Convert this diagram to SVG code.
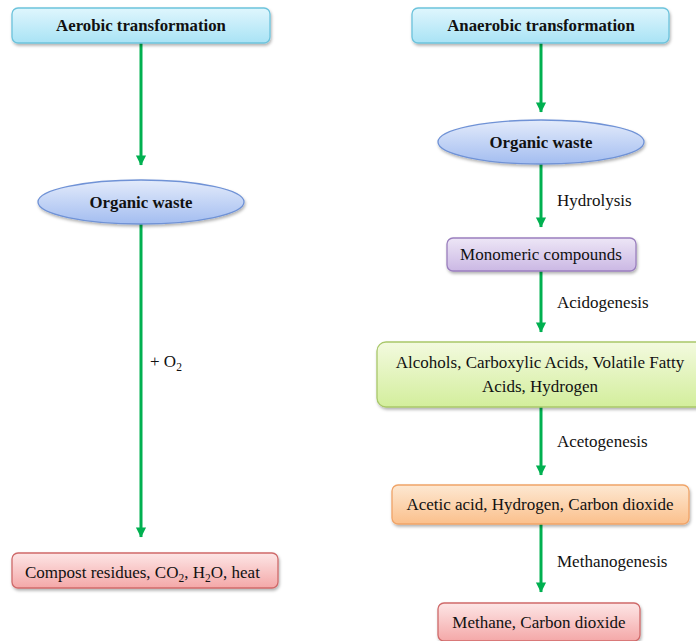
<svg xmlns="http://www.w3.org/2000/svg" width="696" height="641" viewBox="0 0 696 641">
<defs>
<linearGradient id="gCyan" x1="0" y1="0" x2="0" y2="1"><stop offset="0" stop-color="#dff6fd"/><stop offset="1" stop-color="#a9e3f5"/></linearGradient>
<linearGradient id="gBlue" x1="0" y1="0" x2="0" y2="1"><stop offset="0" stop-color="#e3ebfb"/><stop offset="1" stop-color="#a3bdf0"/></linearGradient>
<linearGradient id="gPurple" x1="0" y1="0" x2="0" y2="1"><stop offset="0" stop-color="#ede6f6"/><stop offset="1" stop-color="#cbb8e4"/></linearGradient>
<linearGradient id="gGreen" x1="0" y1="0" x2="0" y2="1"><stop offset="0" stop-color="#f3fadf"/><stop offset="1" stop-color="#d3ee9c"/></linearGradient>
<linearGradient id="gOrange" x1="0" y1="0" x2="0" y2="1"><stop offset="0" stop-color="#fde8d2"/><stop offset="1" stop-color="#fbc08c"/></linearGradient>
<linearGradient id="gRed" x1="0" y1="0" x2="0" y2="1"><stop offset="0" stop-color="#fde6e6"/><stop offset="1" stop-color="#f4a8a8"/></linearGradient>
<filter id="sh" x="-10%" y="-20%" width="120%" height="150%"><feDropShadow dx="1" dy="2" stdDeviation="1.5" flood-color="#000" flood-opacity="0.3"/></filter>
<marker id="ah" markerWidth="4" markerHeight="4" refX="3.2" refY="2" orient="auto" markerUnits="strokeWidth"><path d="M0,0.3 L3.4,2 L0,3.7 Z" fill="#00b050"/></marker>
<style>
.t{font-family:"Liberation Serif","Times New Roman",serif;font-size:17px;fill:#111;}
.b{font-weight:bold;font-size:16.8px;}
.c{stroke:#00b050;stroke-width:3;fill:none;marker-end:url(#ah);}
.n{filter:url(#sh);stroke-width:1.3;}
.sub{font-size:11.5px;}
</style>
</defs>
<g id="connectors">
<line class="c" x1="141" y1="43" x2="141" y2="165"/>
<line class="c" x1="141" y1="224" x2="141" y2="537"/>
<line class="c" x1="541" y1="43" x2="541" y2="112"/>
<line class="c" x1="541" y1="164" x2="541" y2="227"/>
<line class="c" x1="541" y1="271" x2="541" y2="332"/>
<line class="c" x1="541" y1="407" x2="541" y2="475"/>
<line class="c" x1="541" y1="524" x2="541" y2="592"/>
</g>
<g id="labels">
<text class="t" x="150" y="367">+ O<tspan class="sub" dy="4">2</tspan></text>
<text class="t" x="557" y="206">Hydrolysis</text>
<text class="t" x="557" y="308">Acidogenesis</text>
<text class="t" x="557" y="447">Acetogenesis</text>
<text class="t" x="557" y="567">Methanogenesis</text>
</g>
<g id="aerobic">
<rect class="n" x="12" y="8" width="258" height="35" rx="6" fill="url(#gCyan)" stroke="#6cc3dc"/>
<text class="t b" x="141" y="31" text-anchor="middle">Aerobic transformation</text>
</g>
<g id="organic-waste-aerobic">
<ellipse class="n" cx="141" cy="202" rx="103" ry="22" fill="url(#gBlue)" stroke="#6f92d6"/>
<text class="t b" x="141" y="208" text-anchor="middle">Organic waste</text>
</g>
<g id="compost">
<rect class="n" x="12" y="553" width="266" height="35" rx="6" fill="url(#gRed)" stroke="#cf6a6a"/>
<text class="t" x="25" y="578">Compost residues, CO<tspan class="sub" dy="4">2</tspan><tspan dy="-4">, H</tspan><tspan class="sub" dy="4">2</tspan><tspan dy="-4">O, heat</tspan></text>
</g>
<g id="anaerobic">
<rect class="n" x="412" y="8" width="257" height="35" rx="6" fill="url(#gCyan)" stroke="#6cc3dc"/>
<text class="t b" x="541" y="31" text-anchor="middle">Anaerobic transformation</text>
</g>
<g id="organic-waste-anaerobic">
<ellipse class="n" cx="541" cy="142" rx="103" ry="22" fill="url(#gBlue)" stroke="#6f92d6"/>
<text class="t b" x="541" y="148" text-anchor="middle">Organic waste</text>
</g>
<g id="monomeric">
<rect class="n" x="447" y="238" width="189" height="33" rx="6" fill="url(#gPurple)" stroke="#9a7fbe"/>
<text class="t" x="541" y="260" text-anchor="middle">Monomeric compounds</text>
</g>
<g id="alcohols">
<rect class="n" x="377" y="342" width="330" height="65" rx="9" fill="url(#gGreen)" stroke="#a9c86a"/>
<text class="t" x="540" y="368" text-anchor="middle">Alcohols, Carboxylic Acids, Volatile Fatty</text>
<text class="t" x="540" y="392" text-anchor="middle">Acids, Hydrogen</text>
</g>
<g id="acetic">
<rect class="n" x="392" y="485" width="297" height="39" rx="6" fill="url(#gOrange)" stroke="#f0a468"/>
<text class="t" x="540" y="510" text-anchor="middle">Acetic acid, Hydrogen, Carbon dioxide</text>
</g>
<g id="methane">
<rect class="n" x="438" y="603" width="202" height="38" rx="6" fill="url(#gRed)" stroke="#cf6a6a"/>
<text class="t" x="539" y="628" text-anchor="middle">Methane, Carbon dioxide</text>
</g>
</svg>
